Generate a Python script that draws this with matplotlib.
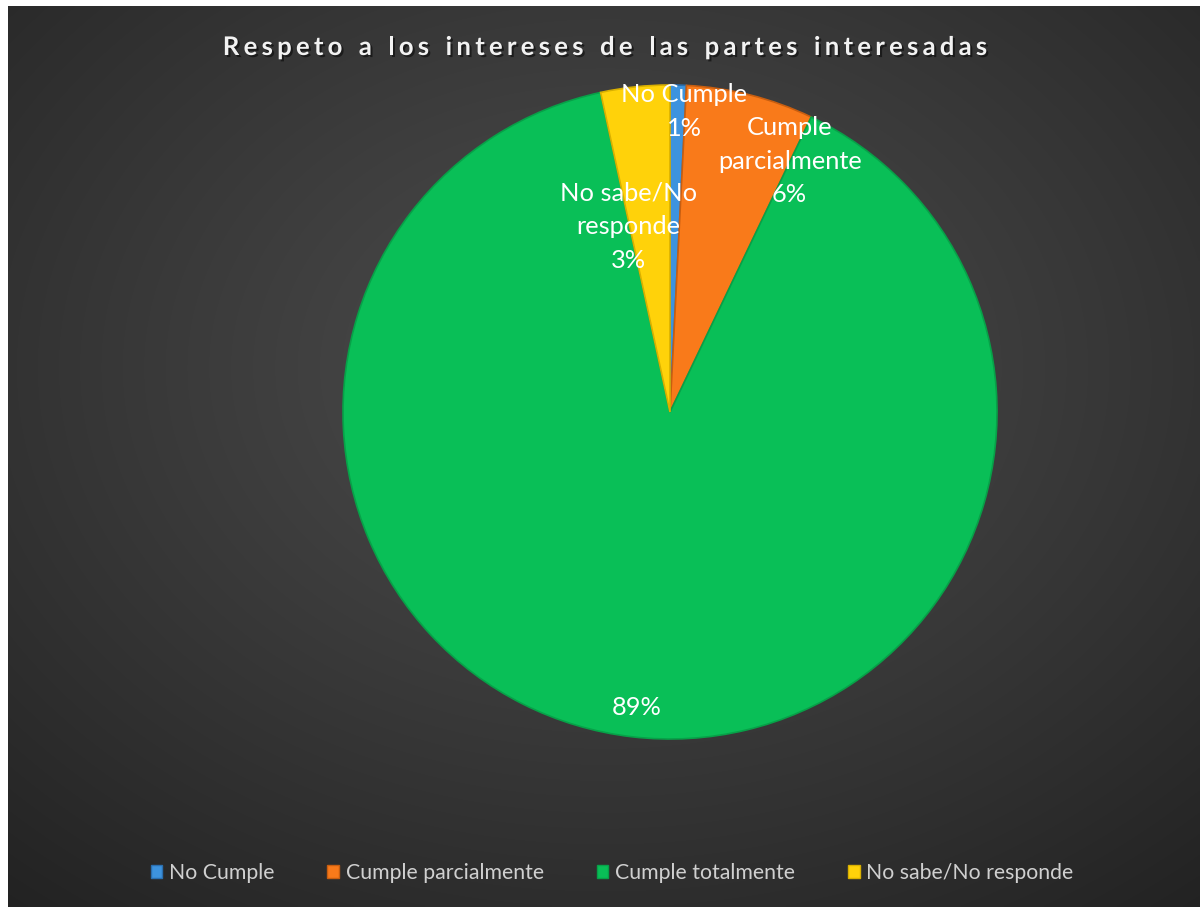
import numpy as np
import matplotlib
matplotlib.use("Agg")
import matplotlib.pyplot as plt
import matplotlib.patheffects as pe
from matplotlib.patches import Patch

categories = ["No Cumple", "Cumple parcialmente", "Cumple totalmente", "No sabe/No responde"]
values = [0.8, 6.3, 89.4, 3.4]
slice_labels = ["No Cumple\n1%", "Cumple\nparcialmente\n6%", "89%", "No sabe/No\nresponde\n3%"]
title = "Respeto a los intereses de las partes interesadas"

colors = ["#3d93de", "#f97a1a", "#09bf57", "#ffd20a"]
edge_colors = ["#2a6fb0", "#c85e10", "#07a148", "#d9b000"]
# label placement: (angle from top clockwise in degrees, radius fraction)
label_pos = [(2.7, 0.92), (25.5, 0.85), (186.5, 0.91), (-12.6, 0.58)]

W, H = 1200, 907
fig = plt.figure(figsize=(W / 100, H / 100), dpi=100)
fig.patch.set_facecolor("white")

# background gradient panel
bg = fig.add_axes([8 / W, 0, 1 - 8 / W, 1 - 6 / H])
bg.set_axis_off()
ny, nx = 300, 400
yy, xx = np.mgrid[0:ny, 0:nx]
cx, cy = nx * 0.50, ny * 0.40
d = np.sqrt(((xx - cx) / nx) ** 2 + ((yy - cy) / ny) ** 2)
d = d / d.max()
lo, hi = 0.135, 0.30
val = hi - (hi - lo) * np.clip(d, 0, 1) ** 1.1
img = np.dstack([val, val, val])
bg.imshow(img, extent=[0, 1, 0, 1], origin="upper", aspect="auto", interpolation="bilinear")
bg.set_xlim(0, 1)
bg.set_ylim(0, 1)

# pie
r_px = 327
cxp, cyp = 670, 412
ax = fig.add_axes([(cxp - r_px) / W, (H - cyp - r_px) / H, 2 * r_px / W, 2 * r_px / H])
ax.set_axis_off()
wedges, _ = ax.pie(values, colors=colors, startangle=90, counterclock=False, radius=1,
                   wedgeprops=dict(linewidth=1.2))
for w, ec in zip(wedges, edge_colors):
    w.set_edgecolor(ec)
ax.set_xlim(-1, 1)
ax.set_ylim(-1, 1)
ax.set_aspect("auto")

for lab, (ang, rf) in zip(slice_labels, label_pos):
    a = np.deg2rad(90 - ang)
    ax.text(rf * np.cos(a), rf * np.sin(a), lab, ha="center", va="center",
            color="white", fontsize=18.3, family="Lato", linespacing=1.55)

# title with letter spacing
fig.canvas.draw()
renderer = fig.canvas.get_renderer()
tprops = dict(fontsize=18.5, fontweight="bold", family="Lato", color="#f2f2f2")
spacing = 4.2
widths = []
for ch in title:
    t = fig.text(0, 0, ch if ch != " " else "n", **tprops)
    bb = t.get_window_extent(renderer)
    widths.append(bb.width if ch != " " else bb.width * 0.55)
    t.remove()
total = sum(widths) + spacing * (len(title) - 1)
x = 605 - total / 2
ty = H - 47
for ch, wd in zip(title, widths):
    if ch != " ":
        t = fig.text(x / W, ty / H, ch, ha="left", va="center", **tprops)
        t.set_path_effects([pe.SimplePatchShadow(offset=(1.5, -1.5), shadow_rgbFace="black", alpha=0.5),
                            pe.Normal()])
    x += wd + spacing

# legend
handles = [Patch(facecolor=c, edgecolor=e) for c, e in zip(colors, edge_colors)]
leg = fig.legend(handles, categories, loc="center", bbox_to_anchor=(612 / W, (H - 873) / H),
                 ncol=4, frameon=False, handlelength=0.55, handleheight=0.6,
                 handletextpad=0.3, columnspacing=2.5, prop=dict(family="Lato", size=15.3))
for t in leg.get_texts():
    t.set_color("#d0d0d0")

fig.savefig("out.png", dpi=100, facecolor=fig.get_facecolor())
